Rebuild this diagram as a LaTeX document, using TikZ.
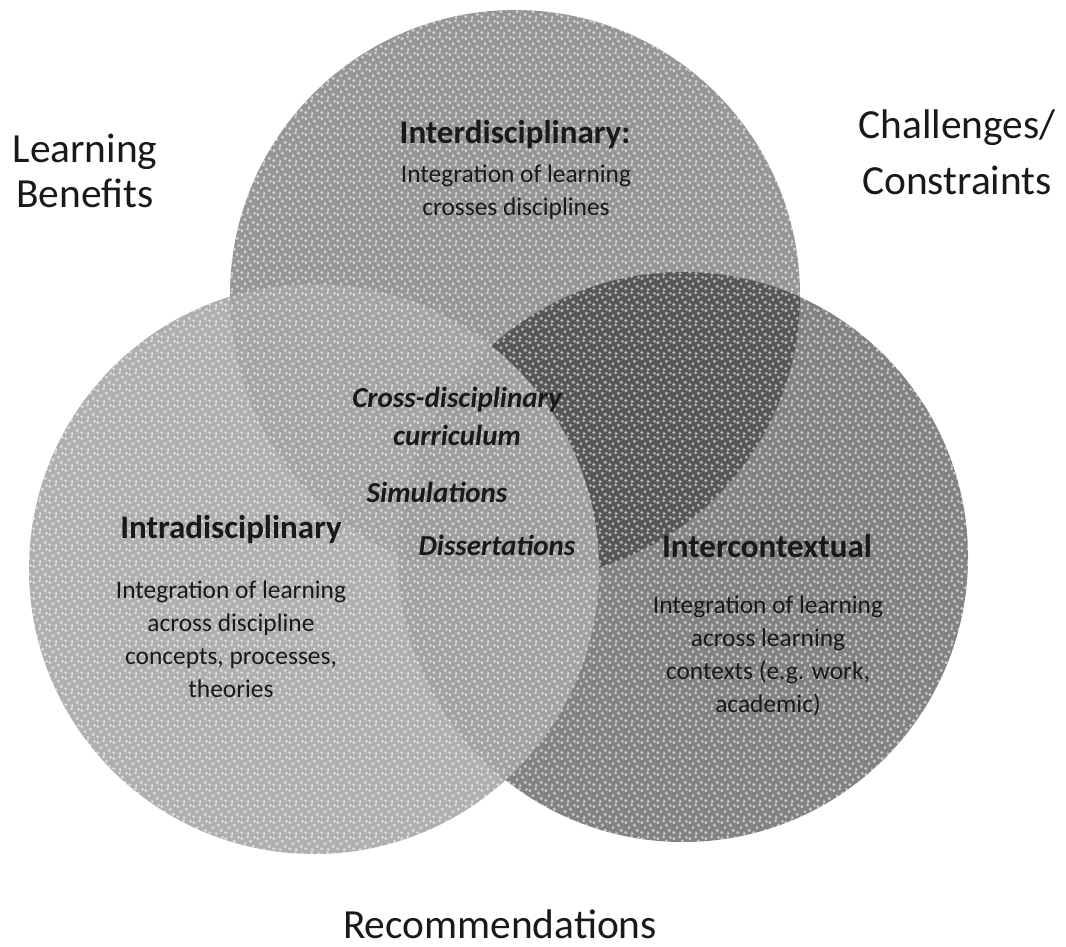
\documentclass[tikz,border=0pt]{standalone}
\usepackage{fontspec}
\setmainfont{Carlito}
\usetikzlibrary{patterns}
\definecolor{intergray}{gray}{0.59}
\definecolor{intragray}{gray}{0.65}
\definecolor{contextgray}{gray}{0.18}
\definecolor{inkgray}{gray}{0.1}
% speckled fill for the circles
\pgfdeclarepatternformonly{sand}{\pgfpoint{-1pt}{-1pt}}{\pgfpoint{9pt}{9pt}}{\pgfpoint{8pt}{8pt}}{
  \pgfpathcircle{\pgfpoint{0.9pt}{1.2pt}}{0.85pt}
  \pgfpathcircle{\pgfpoint{4.1pt}{0.7pt}}{0.8pt}
  \pgfpathcircle{\pgfpoint{6.6pt}{2.3pt}}{0.9pt}
  \pgfpathcircle{\pgfpoint{2.5pt}{3.6pt}}{0.8pt}
  \pgfpathcircle{\pgfpoint{5.2pt}{4.9pt}}{0.85pt}
  \pgfpathcircle{\pgfpoint{1.0pt}{6.2pt}}{0.9pt}
  \pgfpathcircle{\pgfpoint{3.8pt}{7.1pt}}{0.8pt}
  \pgfpathcircle{\pgfpoint{7.2pt}{6.8pt}}{0.75pt}
  \pgfusepath{fill}
}
\begin{document}
\begin{tikzpicture}[x=0.5pt,y=0.5pt,
    heading/.style={font=\fontsize{16.5}{19}\selectfont\bfseries, text=inkgray},
    body/.style={font=\fontsize{12.7}{16.5}\selectfont, align=center, text=inkgray},
    example/.style={font=\fontsize{14.5}{19}\selectfont\bfseries\itshape, align=center, text=inkgray},
    outer/.style={font=\fontsize{20.7}{22.5}\selectfont, align=center, text=inkgray}]
    \useasboundingbox (0,0) rectangle (1066,-947);
    % circles: top first, then right, left one last
    \fill[intergray] (515,-295) circle (142.5pt);
    \fill[contextgray, fill opacity=0.6] (683,-557) circle (142.5pt);
    \fill[intragray, fill opacity=0.9] (314,-569) circle (142.5pt);
    \fill[pattern=sand, pattern color=white, fill opacity=0.55]
        (515,-295) circle (142.5pt) (683,-557) circle (142.5pt) (314,-569) circle (142.5pt);
    % circle titles and texts
    \node[heading] (interH) at (515,-135) {Interdisciplinary:};
    \node[body] (interB) at (516,-192) {Integration of learning\\crosses disciplines};
    \node[heading] (intraH) at (231,-530) {Intradisciplinary};
    \node[body] (intraB) at (231,-639) {Integration of learning\\across discipline\\concepts, processes,\\theories};
    \node[heading] (contextH) at (767,-546) {Intercontextual};
    \node[body] (contextB) at (768,-656) {Integration of learning\\across learning\\contexts (e.g. work,\\academic)};
    % examples in the overlap
    \node[example] (cross) at (457,-416) {Cross-disciplinary\\curriculum};
    \node[example] (sim) at (437,-492) {Simulations};
    \node[example] (diss) at (497,-545) {Dissertations};
    % outside labels
    \node[outer] (benefits) at (85,-171) {Learning\\Benefits};
    \node[outer, font=\fontsize{20.7}{28}\selectfont] (challenges) at (957,-152) {Challenges/\\Constraints};
    \node[outer] (recommend) at (500,-924) {Recommendations};
\end{tikzpicture}
\end{document}
